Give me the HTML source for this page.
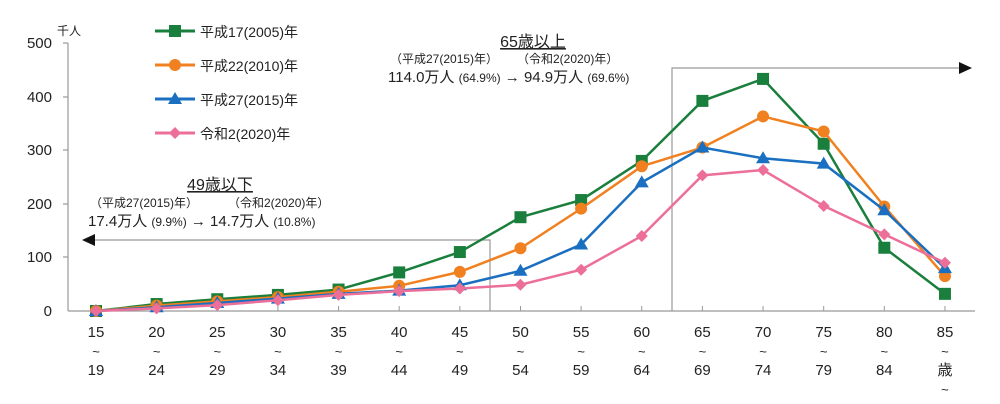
<!DOCTYPE html><html><head><meta charset="utf-8"><style>body{margin:0;background:#fff}svg{display:block}text{font-family:"Liberation Sans","Noto Sans CJK JP",sans-serif;fill:#222}</style></head><body>
<svg width="1000" height="404" viewBox="0 0 1000 404">
<g stroke="#999" stroke-width="1.2" fill="none">
<line x1="68" y1="43" x2="68" y2="311"/>
<line x1="68" y1="311" x2="975" y2="311"/>
<line x1="63" y1="43" x2="68" y2="43"/><line x1="63" y1="97" x2="68" y2="97"/><line x1="63" y1="150" x2="68" y2="150"/><line x1="63" y1="204" x2="68" y2="204"/><line x1="63" y1="257" x2="68" y2="257"/>
<path d="M490 311V240H90"/><path d="M672 311V68H962"/>
</g>
<g id="xt" stroke="#999"></g>
<polygon points="82,240 95,234 95,246" fill="#111"/>
<polygon points="972,68 959,62 959,74" fill="#111"/>
<g font-size="15" text-anchor="end"><text x="52" y="48">500</text><text x="52" y="102">400</text><text x="52" y="155">300</text><text x="52" y="209">200</text><text x="52" y="262">100</text><text x="52" y="316">0</text></g>
<text x="57" y="35" font-size="12">千人</text>
<g id="xl" font-size="15" text-anchor="middle"></g>
<g font-size="14">
<line x1="155" y1="31" x2="195" y2="31" stroke="#1a7f3c" stroke-width="3"/><rect x="169" y="25" width="12" height="12" fill="#1a7f3c"/><text x="200" y="37">平成17(2005)年</text>
<line x1="155" y1="65" x2="195" y2="65" stroke="#f08020" stroke-width="3"/><circle cx="175" cy="65" r="6" fill="#f08020"/><text x="200" y="71">平成22(2010)年</text>
<line x1="155" y1="99" x2="195" y2="99" stroke="#1a6fc0" stroke-width="3"/><polygon points="175,92 182,104 168,104" fill="#1a6fc0"/><text x="200" y="105">平成27(2015)年</text>
<line x1="155" y1="133" x2="195" y2="133" stroke="#ec6f9a" stroke-width="3"/><polygon points="175,127 181,133 175,139 169,133" fill="#ec6f9a"/><text x="200" y="139">令和2(2020)年</text>
</g>
<text x="220" y="190" font-size="16" text-anchor="middle" text-decoration="underline">49歳以下</text>
<text x="90" y="207" font-size="12">（平成27(2015)年）</text><text x="228" y="207" font-size="12">（令和2(2020)年）</text>
<text x="88" y="226" font-size="15">17.4万人 <tspan font-size="12">(9.9%)</tspan> → 14.7万人 <tspan font-size="12">(10.8%)</tspan></text>
<text x="533" y="47" font-size="16" text-anchor="middle" text-decoration="underline">65歳以上</text>
<text x="390" y="63" font-size="12">（平成27(2015)年）</text><text x="517" y="63" font-size="12">（令和2(2020)年）</text>
<text x="388" y="82" font-size="15">114.0万人 <tspan font-size="12">(64.9%)</tspan> → 94.9万人 <tspan font-size="12">(69.6%)</tspan></text>
<g id="series"></g>
</svg>
<script>
var X=i=>96+i*60.64,Y=v=>311-v*0.536,ns="http://www.w3.org/2000/svg";
function el(t,a,p){var e=document.createElementNS(ns,t);for(var k in a)e.setAttribute(k,a[k]);p.appendChild(e);return e}
var xt=document.getElementById('xt'),xl=document.getElementById('xl');
var lab=["15","20","25","30","35","40","45","50","55","60","65","70","75","80","85"],lab2=["19","24","29","34","39","44","49","54","59","64","69","74","79","84","歳"];
for(var i=0;i<15;i++){el('line',{x1:X(i),x2:X(i),y1:306,y2:311},xt);
var t=el('text',{x:X(i),y:337},xl);t.textContent=lab[i];
t=el('text',{x:X(i),y:356,'font-size':13},xl);t.textContent="~";
t=el('text',{x:X(i),y:375},xl);t.textContent=lab2[i];}
var t=el('text',{x:X(14),y:394,'font-size':13},xl);t.textContent="~";
var S=[
["#ec6f9a","d",[0,5,11,20,30,37,42,49,77,140,253,263,196,143,90]],
["#1a6fc0","t",[0,7,15,23,32,38,48,75,124,240,305,285,275,188,80]],
["#f08020","c",[0,10,18,26,36,47,73,117,191,270,305,363,335,195,65]],
["#1a7f3c","s",[0,13,22,30,40,72,110,175,207,280,392,433,312,118,32]]];
var g=document.getElementById('series');
S.reverse().forEach(function(s){var c=s[0];
el('polyline',{points:s[2].map((v,i)=>X(i)+","+Y(v)).join(" "),fill:"none",stroke:c,'stroke-width':2.5},g);
s[2].forEach(function(v,i){var x=X(i),y=Y(v);
if(s[1]=="s")el('rect',{x:x-6,y:y-6,width:12,height:12,fill:c},g);
else if(s[1]=="c")el('circle',{cx:x,cy:y,r:6,fill:c},g);
else if(s[1]=="t")el('polygon',{points:`${x},${y-7} ${x+7},${y+5} ${x-7},${y+5}`,fill:c},g);
else el('polygon',{points:`${x},${y-6} ${x+6},${y} ${x},${y+6} ${x-6},${y}`,fill:c},g);});});
</script>
</body></html>
